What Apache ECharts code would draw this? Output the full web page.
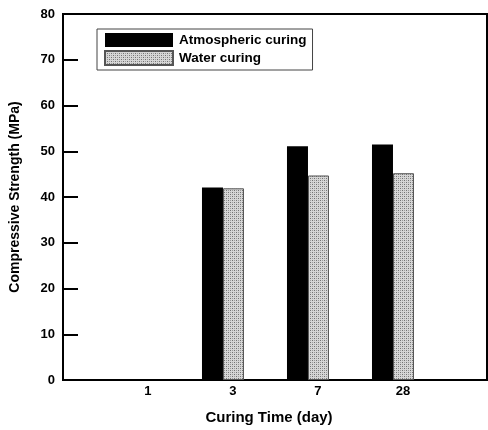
<!DOCTYPE html>
<html>
<head>
<meta charset="utf-8">
<script src="https://cdn.jsdelivr.net/npm/echarts@6/dist/echarts.min.js"></script>
<style>
  html, body { margin: 0; padding: 0; background: #fff; }
  #chart { width: 488px; height: 430px; }
</style>
</head>
<body>
<div id="chart"></div>
<script>
// Curing ages (days) and compressive strength results
const curingDays = ['1', '3', '7', '28'];
const atmosphericCuring = [null, 42.1, 51.1, 51.5];
const waterCuring = [null, 41.9, 44.7, 45.2];
const yTicks = [0, 10, 20, 30, 40, 50, 60, 70, 80];

// Stippled fill for the water-cured bars
function stipplePattern() {
  const c = document.createElement('canvas');
  c.width = 4; c.height = 4;
  const g = c.getContext('2d');
  g.fillStyle = '#d6d6d6';
  g.fillRect(0, 0, 4, 4);
  g.fillStyle = '#727272';
  g.fillRect(0, 0, 1, 1);
  g.fillRect(2, 2, 1, 1);
  g.fillStyle = '#9c9c9c';
  g.fillRect(2, 0, 1, 1);
  g.fillRect(0, 2, 1, 1);
  return c;
}

const pos = curingDays.map((d, i) => i + 1);
const atmData = pos.map((x, i) => [x, atmosphericCuring[i]]);
const watData = pos.map((x, i) => [x, waterCuring[i]]);

const font = 'Liberation Sans, Arial, sans-serif';
const chart = echarts.init(document.getElementById('chart'), null, { renderer: 'canvas' });

chart.setOption({
  animation: false,
  backgroundColor: '#fff',
  textStyle: { fontFamily: font },
  grid: {
    left: 62, right: 1, top: 14, bottom: 41,
    show: true, borderColor: '#000', borderWidth: 2, backgroundColor: 'transparent'
  },
  legend: {
    left: 97, top: 29,
    orient: 'vertical',
    icon: 'rect',
    itemWidth: 68, itemHeight: 14, itemGap: 3,
    padding: [4, 6, 4, 7],
    borderColor: '#444', borderWidth: 1,
    textStyle: { fontFamily: font, fontWeight: 'bold', fontSize: 13.5, color: '#000', padding: [0, 0, 0, 1] },
    data: ['Atmospheric curing', 'Water curing']
  },
  xAxis: {
    type: 'value',
    min: 0.118, max: 5.106,
    interval: 1,
    splitLine: { show: false },
    axisLine: { show: false },
    axisTick: { show: false },
    name: 'Curing Time (day)',
    nameLocation: 'middle',
    nameGap: 30,
    nameTextStyle: { fontFamily: font, fontWeight: 'bold', fontSize: 15, color: '#000', padding: [0, 12, 0, 0] },
    axisLabel: {
      margin: 5,
      customValues: pos,
      formatter: v => {
        const i = Math.round(v) - 1;
        return (i >= 0 && i < curingDays.length) ? '{t|' + curingDays[i] + '}' : '';
      },
      rich: { t: { fontFamily: font, fontWeight: 'bold', fontSize: 13, color: '#000', padding: [0, 0, 0, 20] } }
    }
  },
  yAxis: {
    type: 'value',
    min: 0, max: 80, interval: 10,
    splitLine: { show: false },
    axisLine: { show: true, lineStyle: { color: '#000', width: 2 } },
    axisTick: { show: true, inside: true, length: 15, lineStyle: { color: '#000', width: 2 } },
    axisLabel: {
      margin: 8,
      fontFamily: font, fontWeight: 'bold', fontSize: 13, color: '#000',
      formatter: v => (yTicks.indexOf(v) >= 0 ? String(v) : '')
    },
    name: 'Compressive Strength (MPa)',
    nameLocation: 'middle',
    nameGap: 41,
    nameTextStyle: { fontFamily: font, fontWeight: 'bold', fontSize: 14, color: '#000' }
  },
  series: [
    {
      name: 'Atmospheric curing',
      type: 'bar',
      data: atmData,
      barWidth: 21,
      barGap: '0%',
      itemStyle: { color: '#000' }
    },
    {
      name: 'Water curing',
      type: 'bar',
      data: watData,
      barWidth: 21,
      barGap: '0%',
      itemStyle: { color: { image: stipplePattern(), repeat: 'repeat' }, borderColor: '#555', borderWidth: 1 }
    }
  ]
});
</script>
</body>
</html>
